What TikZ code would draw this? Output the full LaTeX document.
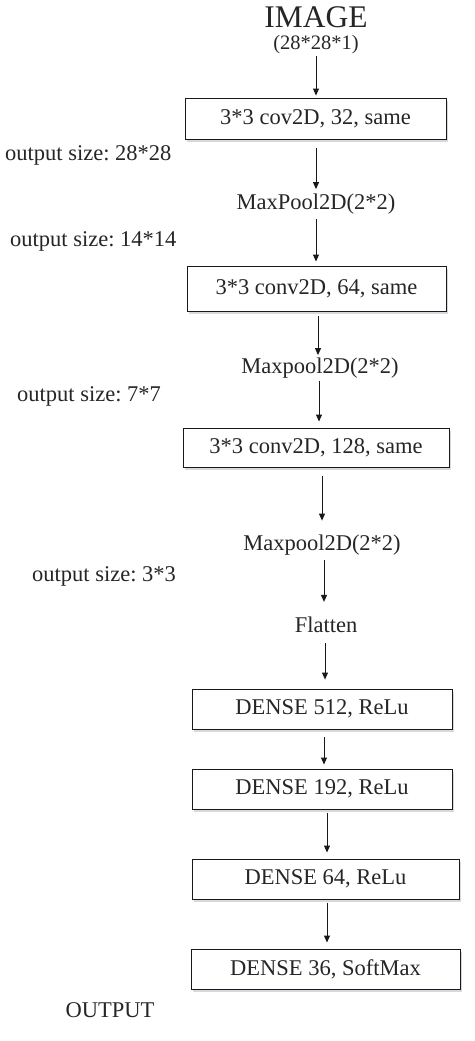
\documentclass[tikz,border=0pt]{standalone}
\usepackage{fontspec}
\setmainfont{Liberation Serif}
\usetikzlibrary{arrows.meta,shadows}
\frenchspacing
\begin{document}
\begin{tikzpicture}[x=1pt,y=-1pt,
  lbl/.style={inner sep=0pt, font=\fontsize{22.5}{26}\selectfont, text=black!85},
  side/.style={lbl, anchor=west},
  box/.style={draw=black!90, line width=0.9pt, fill=white, inner sep=0pt,
    minimum height=40pt, font=\fontsize{22.5}{26}\selectfont, text=black!85,
    drop shadow={shadow xshift=1.5pt, shadow yshift=-2.5pt, fill=blue!15!black!30, opacity=0.5}},
  arr/.style={draw=black!90, line width=0.9pt, -{Triangle[length=7pt,width=6pt]}}]
\useasboundingbox (0,0) rectangle (474,1041);
\fill[white] (0,0) rectangle (474,1041);

% title
\node[lbl, font=\fontsize{31.5}{35}\selectfont] (img) at (316,17) {IMAGE};
\node[lbl, font=\fontsize{20.5}{23}\selectfont] (dim) at (316,45) {(28*28*1)};

% boxes
\node[box, minimum width=261pt, minimum height=41pt] (b1) at (315.5,118.5) {3*3 cov2D, 32, same};
\node[box, minimum width=259pt, minimum height=45pt] (b2) at (316.5,288.5) {3*3 conv2D, 64, same};
\node[box, minimum width=266pt, minimum height=39pt] (b3) at (316,447.5) {3*3 conv2D, 128, same};
\node[box, minimum width=260pt] (b4) at (322,709) {DENSE 512, ReLu};
\node[box, minimum width=260pt] (b5) at (322,789) {DENSE 192, ReLu};
\node[box, minimum width=267pt] (b6) at (325.5,879) {DENSE 64, ReLu};
\node[box, minimum width=269pt] (b7) at (325.5,969) {DENSE 36, SoftMax};

% plain layer labels
\node[lbl] (mp1) at (316,204) {MaxPool2D(2*2)};
\node[lbl] (mp2) at (320,368) {Maxpool2D(2*2)};
\node[lbl] (mp3) at (322,545) {Maxpool2D(2*2)};
\node[lbl] (fl) at (326,625) {Flatten};

% side labels
\node[side] (o1) at (5,155) {output size: 28*28};
\node[side] (o2) at (10,241) {output size: 14*14};
\node[side] (o3) at (17,396) {output size: 7*7};
\node[side] (o4) at (32,576) {output size: 3*3};
\node[lbl] (out) at (110,1010) {OUTPUT};

% connectors
\draw[arr, shorten <=2pt, shorten >=2pt] (dim.south) -- (b1.north -| dim.south);
\draw[arr, shorten <=9pt, shorten >=4.5pt] (b1.south -| mp1.north) -- (mp1.north);
\draw[arr, shorten <=4.5pt, shorten >=4pt] (mp1.south) -- (b2.north -| mp1.south);
\draw[arr, shorten <=5pt, shorten >=2.5pt] (b2.south -| 318,0) -- (mp2.north -| 318,0);
\draw[arr, shorten <=2.5pt, shorten >=6pt] (mp2.south -| 319,0) -- (b3.north -| 319,0);
\draw[arr, shorten <=9pt, shorten >=14pt] (b3.south -| mp3.north) -- (mp3.north);
\draw[arr, shorten <=4.5pt, shorten >=15pt] (mp3.south -| 324,0) -- (fl.north -| 324,0);
\draw[arr, shorten <=10pt, shorten >=9pt] (fl.south -| 325,0) -- (b4.north -| 325,0);
\draw[arr, shorten <=8pt, shorten >=4pt] (b4.south -| 324,0) -- (b5.north -| 324,0);
\draw[arr, shorten <=4pt, shorten >=6pt] (b5.south -| 327,0) -- (b6.north -| 327,0);
\draw[arr, shorten <=4pt, shorten >=6pt] (b6.south -| 327,0) -- (b7.north -| 327,0);
\end{tikzpicture}
\end{document}
